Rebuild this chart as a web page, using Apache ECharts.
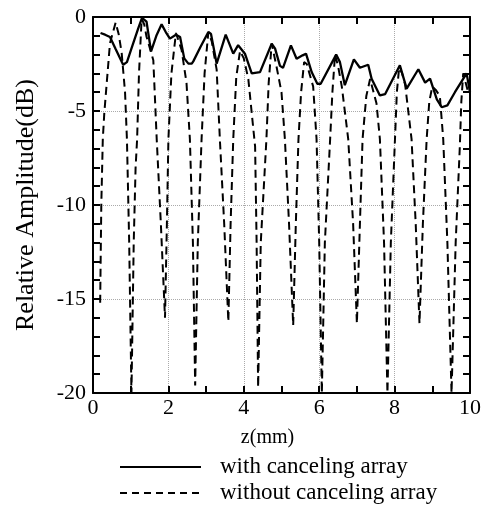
<!DOCTYPE html>
<html><head><meta charset="utf-8">
<script src="https://cdn.jsdelivr.net/npm/echarts@6/dist/echarts.min.js"></script>
<style>html,body{margin:0;padding:0;background:#fff}#c{width:489px;height:513px}</style>
</head><body><div id="c"></div>
<script>
// Data (z in mm, relative amplitude in dB)
const withZ = [0.2,0.32,0.45,0.6,0.8,0.9,1.05,1.2,1.3,1.42,1.54,1.68,1.82,1.93,2.04,2.2,2.31,2.42,2.53,2.62,2.66,2.85,3.06,3.13,3.28,3.52,3.72,3.85,4.03,4.21,4.43,4.74,4.83,4.96,5.04,5.25,5.4,5.56,5.65,5.8,5.95,6.04,6.45,6.55,6.68,6.92,7.08,7.3,7.39,7.61,7.75,8.14,8.32,8.63,8.81,8.94,9.12,9.25,9.4,9.6,9.91,10];
const withDb = [-0.85,-0.94,-1.06,-1.7,-2.54,-2.4,-1.5,-0.6,-0.05,-0.25,-1.83,-1.0,-0.39,-0.8,-1.15,-0.94,-1.06,-2.2,-2.48,-2.48,-2.36,-1.6,-0.8,-0.9,-2.48,-0.94,-1.95,-1.5,-1.95,-3.0,-2.93,-1.42,-1.68,-2.6,-2.7,-1.51,-2.22,-2.04,-1.95,-2.93,-3.55,-3.55,-2.0,-2.4,-3.63,-2.25,-2.7,-2.54,-3.28,-4.17,-4.1,-2.57,-3.81,-2.78,-3.49,-3.28,-4.38,-4.8,-4.7,-4.0,-3.0,-4.0];
const withoutZ = [0.19,0.22,0.26,0.3,0.45,0.6,0.68,0.76,0.85,0.9,0.96,1.02,1.08,1.13,1.17,1.22,1.29,1.36,1.42,1.6,1.69,1.8,1.91,1.96,2.0,2.08,2.2,2.35,2.48,2.57,2.65,2.71,2.78,2.88,2.96,3.06,3.15,3.28,3.37,3.48,3.59,3.65,3.72,3.8,3.9,4.0,4.12,4.3,4.34,4.38,4.45,4.6,4.66,4.74,4.87,5.0,5.09,5.2,5.31,5.38,5.45,5.52,5.6,5.67,5.84,5.93,6.0,6.07,6.15,6.29,6.35,6.42,6.5,6.6,6.77,6.9,7.0,7.08,7.15,7.25,7.35,7.52,7.61,7.72,7.81,7.9,8.01,8.06,8.12,8.2,8.28,8.45,8.56,8.66,8.75,8.85,8.92,9.0,9.1,9.2,9.29,9.4,9.51,9.62,9.73,9.77,9.82,9.95];
const withoutDb = [-15.2,-10,-6.5,-5.1,-1.4,-0.3,-0.9,-1.9,-4,-6.5,-12,-20,-12,-8,-6.5,-3,-0.1,-0.4,-1.05,-2.3,-6.5,-11,-16,-11,-6.5,-3,-0.85,-1.75,-3.5,-6.5,-12,-19.6,-12,-6.5,-3,-0.8,-1.3,-2.8,-6.7,-11,-16.2,-11,-6.5,-3.2,-1.8,-2.2,-3.3,-6.9,-12,-19.7,-12,-6.5,-3.5,-1.42,-2.66,-4,-6.5,-11,-16.4,-11,-6.5,-4,-2.4,-2.5,-3.7,-6.5,-12,-20,-12,-6.5,-4,-2.0,-2.6,-3.7,-6.5,-11,-16.3,-11,-6.5,-4.2,-3.3,-4.6,-6.5,-12,-20,-12,-6.5,-4,-2.7,-3,-3.6,-6.5,-11,-16.3,-11,-6.5,-4.5,-3.7,-3.9,-4.2,-6.5,-12,-20,-12,-6.9,-4.5,-3.0,-4.0];
const xTickLabels = ['0','2','4','6','8','10'];
const yTickLabels = ['-20','-15','-10','-5','0'];
const seriesNames = ['with canceling array','without canceling array'];

const pair = (xs, ys) => xs.map((x, i) => [x, ys[i]]);
const FONT = '"Liberation Serif", "Times New Roman", serif';
const fs = 22;

const tickAxisX = (pos, labels) => ({
  type: 'value', position: pos, min: 0, max: 10, interval: 1,
  axisLine: { show: true, onZero: false, lineStyle: { color: '#000', width: 2 } },
  axisTick: { show: true, inside: true, length: 7, lineStyle: { color: '#000', width: 2 } },
  axisLabel: { show: labels, color: '#000', fontFamily: FONT, fontSize: fs, margin: 4,
    formatter: v => xTickLabels.includes(String(v)) ? String(v) : '' },
  splitLine: { show: false }
});
const tickAxisY = (pos, labels) => ({
  type: 'value', position: pos, min: -20, max: 0, interval: 1,
  axisLine: { show: true, onZero: false, lineStyle: { color: '#000', width: 2 } },
  axisTick: { show: true, inside: true, length: 7, lineStyle: { color: '#000', width: 2 } },
  axisLabel: { show: labels, color: '#000', fontFamily: FONT, fontSize: fs, margin: 7,
    formatter: v => yTickLabels.includes(String(v)) ? String(v) : '' },
  splitLine: { show: false }
});
const gridStyle = { show: true, lineStyle: { color: '#aaa', type: 'dotted', width: 1 } };

const xA0 = tickAxisX('bottom', true);
xA0.name = 'z(mm)'; xA0.nameLocation = 'middle'; xA0.nameGap = 35;
xA0.nameTextStyle = { color: '#000', fontFamily: FONT, fontSize: 20, padding: [0, 28, 0, 0] };
const yA0 = tickAxisY('left', true);
yA0.name = 'Relative Amplitude(dB)'; yA0.nameLocation = 'middle'; yA0.nameGap = 54;
yA0.nameTextStyle = { color: '#000', fontFamily: FONT, fontSize: 26 };

const legendText = (y, t) => ({ type: 'text', left: 220, top: y - 12,
  style: { text: t, fill: '#000', font: '23px ' + FONT } });

const option = {
  animation: false,
  backgroundColor: '#fff',
  grid: { left: 93, right: 19, top: 17, bottom: 120, containLabel: false },
  xAxis: [
    xA0,
    tickAxisX('top', false),
    { type: 'value', min: 0, max: 10, interval: 2, show: true, axisLine: { show: false }, axisTick: { show: false }, axisLabel: { show: false }, splitLine: gridStyle }
  ],
  yAxis: [
    yA0,
    tickAxisY('right', false),
    { type: 'value', min: -20, max: 0, interval: 5, show: true, axisLine: { show: false }, axisTick: { show: false }, axisLabel: { show: false }, splitLine: gridStyle }
  ],
  graphic: [
    { type: 'line', shape: { x1: 120, y1: 467, x2: 201, y2: 467 }, style: { stroke: '#000', lineWidth: 2 } },
    { type: 'line', shape: { x1: 120, y1: 493, x2: 201, y2: 493 }, style: { stroke: '#000', lineWidth: 2, lineDash: [7, 5] } },
    legendText(467, seriesNames[0]),
    legendText(493, seriesNames[1])
  ],
  series: [
    { name: seriesNames[0], type: 'line', data: pair(withZ, withDb), showSymbol: false, symbol: 'none',
      lineStyle: { color: '#000', width: 2.3 }, itemStyle: { color: '#000' }, clip: true, z: 3 },
    { name: seriesNames[1], type: 'line', data: pair(withoutZ, withoutDb), showSymbol: false, symbol: 'none',
      lineStyle: { color: '#000', width: 2, type: [8, 5] }, itemStyle: { color: '#000' }, clip: true, z: 2 }
  ]
};
const chart = echarts.init(document.getElementById('c'), null, { renderer: 'canvas' });
chart.setOption(option);
</script></body></html>
